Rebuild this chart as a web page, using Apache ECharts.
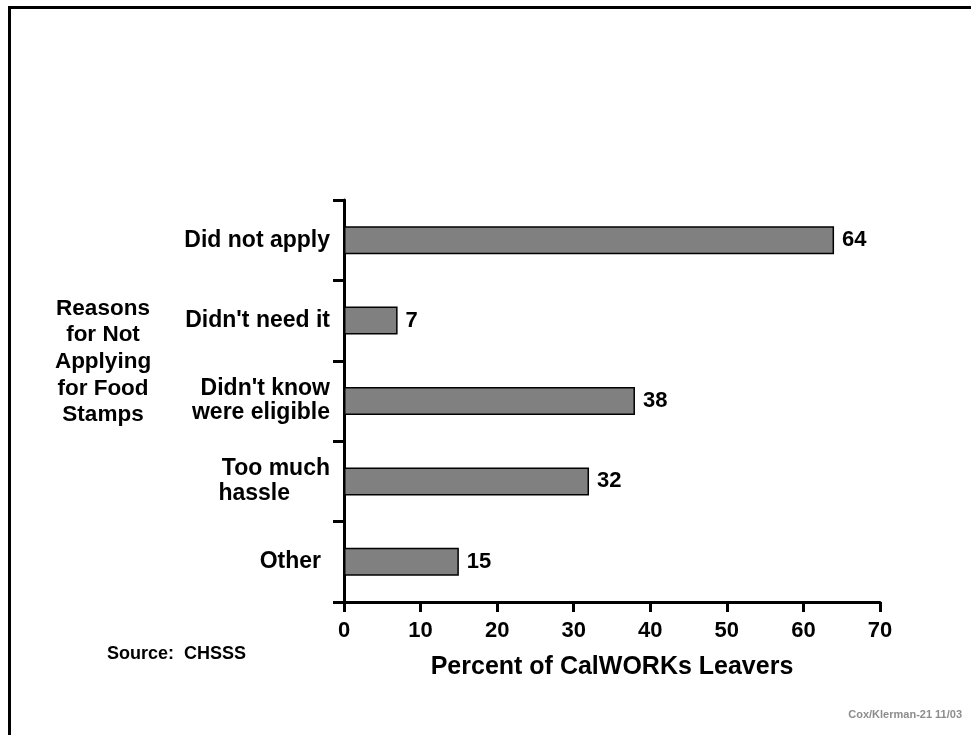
<!DOCTYPE html>
<html>
<head>
<meta charset="utf-8">
<title>Reasons for Not Applying for Food Stamps</title>
<script src="https://cdn.jsdelivr.net/npm/echarts@6/dist/echarts.min.js"></script>
<style>
  html, body { margin: 0; padding: 0; background: #ffffff; }
  #chart { width: 971px; height: 735px; }
</style>
</head>
<body>
<div id="chart"></div>
<script>
// Survey categories (top to bottom) and their shares of leavers
const categories = ['Did not apply', "Didn't need it", "Didn't know\nwere eligible", 'Too much\nhassle', 'Other'];
const percents = [64, 7, 38, 32, 15];
const xTicks = [0, 10, 20, 30, 40, 50, 60, 70];

const FONT = '"Liberation Sans", Arial, Helvetica, sans-serif';

const chart = echarts.init(document.getElementById('chart'));

// category axis runs bottom-up, so reverse the order for ECharts
const yCats = categories.slice().reverse();
const yVals = percents.slice().reverse();

function catLabel(value) {
  if (value === 'Too much\nhassle') return '{c|Too much}\n{h|hassle}';
  if (value === 'Other') return '{o|Other}';
  if (value.indexOf('\n') >= 0) return value.split('\n').map(s => '{m|' + s + '}').join('\n');
  return '{c|' + value + '}';
}

const labelBase = { fontFamily: FONT, fontWeight: 'bold', fontSize: 23, color: '#000' };

chart.setOption({
  backgroundColor: '#ffffff',
  animation: false,
  grid: { left: 344, right: 91, top: 200, bottom: 133, containLabel: false },
  xAxis: {
    type: 'value',
    min: xTicks[0],
    max: xTicks[xTicks.length - 1],
    interval: xTicks[1] - xTicks[0],
    name: 'Percent of CalWORKs Leavers',
    nameLocation: 'middle',
    nameGap: 53,
    nameTextStyle: { fontFamily: FONT, fontWeight: 'bold', fontSize: 25, color: '#000' },
    axisLine: { show: true, lineStyle: { color: '#000', width: 3 } },
    axisTick: { show: true, length: 10, lineStyle: { color: '#000', width: 3 } },
    axisLabel: { margin: 18, fontFamily: FONT, fontWeight: 'bold', fontSize: 22, color: '#000' },
    splitLine: { show: false }
  },
  yAxis: {
    type: 'category',
    data: yCats,
    boundaryGap: true,
    axisLine: { show: true, lineStyle: { color: '#000', width: 3 } },
    axisTick: { show: true, length: 11, alignWithLabel: false, lineStyle: { color: '#000', width: 3 } },
    axisLabel: {
      margin: 14,
      formatter: catLabel,
      rich: {
        c: Object.assign({}, labelBase, { lineHeight: 25 }),
        m: Object.assign({}, labelBase, { lineHeight: 24 }),
        h: Object.assign({}, labelBase, { lineHeight: 25, padding: [0, 40, 0, 0] }),
        o: Object.assign({}, labelBase, { padding: [0, 9, 0, 0] })
      }
    }
  },
  series: [{
    type: 'bar',
    data: yVals,
    barWidth: 28,
    itemStyle: { color: '#808080', borderColor: '#000', borderWidth: 1.5 },
    label: {
      show: true,
      position: 'right',
      distance: 8,
      fontFamily: FONT,
      fontWeight: 'bold',
      fontSize: 22,
      color: '#000'
    }
  }],
  graphic: [
    {
      type: 'rect',
      silent: true,
      shape: { x: 9.5, y: 7.5, width: 1200, height: 1200 },
      style: { fill: 'none', stroke: '#000', lineWidth: 3 }
    },
    {
      type: 'text',
      x: 103,
      y: 295,
      style: {
        text: 'Reasons\nfor Not\nApplying\nfor Food\nStamps',
        font: 'bold 22.5px ' + FONT,
        fill: '#000',
        align: 'center',
        verticalAlign: 'top',
        lineHeight: 26.7
      }
    },
    {
      type: 'text',
      x: 107,
      y: 654,
      style: {
        text: 'Source:  CHSSS',
        font: 'bold 18px ' + FONT,
        fill: '#000',
        align: 'left',
        verticalAlign: 'middle'
      }
    },
    {
      type: 'text',
      x: 962,
      y: 715,
      style: {
        text: 'Cox/Klerman-21 11/03',
        font: 'bold 11px ' + FONT,
        fill: '#8c8c8c',
        align: 'right',
        verticalAlign: 'middle'
      }
    }
  ]
});
</script>
</body>
</html>
